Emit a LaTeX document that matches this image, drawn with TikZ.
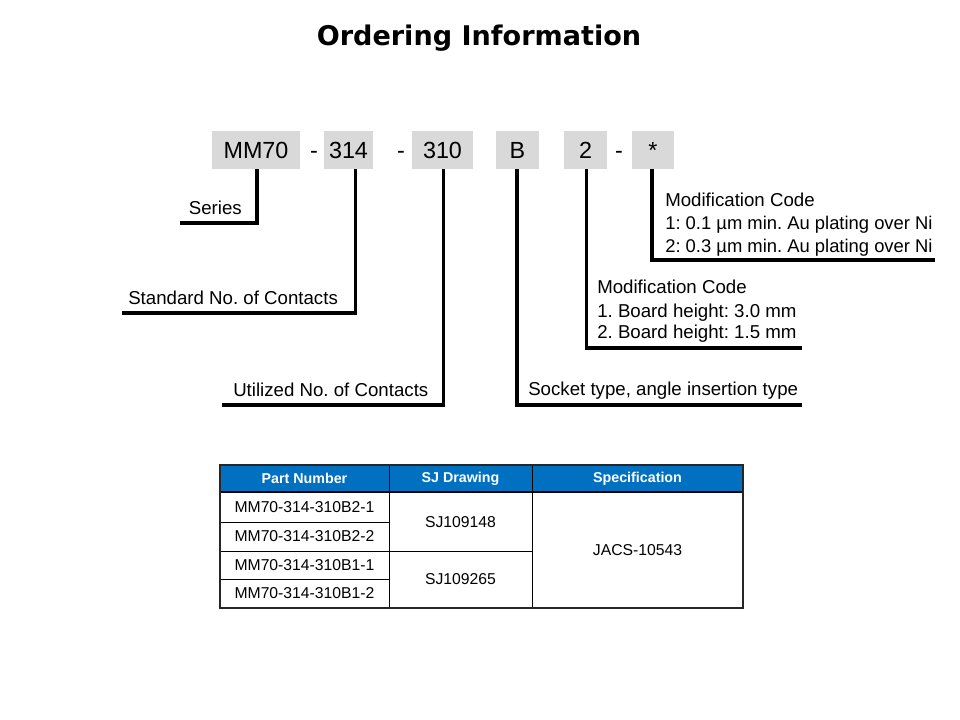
\documentclass[tikz,border=0pt]{standalone}
\usepackage{fontspec}
\setmainfont{Liberation Sans}
\newfontfamily\titlefont{DejaVu Sans}
\definecolor{boxgray}{HTML}{D9D9D9}
\definecolor{hdrblue}{HTML}{0070C0}
\frenchspacing
\begin{document}
\begin{tikzpicture}[x=0.75pt,y=-0.75pt,
  codebox/.style={fill=boxgray,inner sep=0pt,minimum height=28.5pt,font=\fontsize{17.5}{20}\selectfont},
  sep/.style={inner sep=0pt,font=\fontsize{17.5}{20}\selectfont},
  lbl/.style={inner sep=0pt,font=\fontsize{14}{17}\selectfont\frenchspacing},
  leader/.style={line width=2.3pt,line join=miter},
  cell/.style={inner sep=0pt,font=\fontsize{11.8}{14}\selectfont},
  hdr/.style={inner sep=0pt,text=white,font=\fontsize{10.7}{13}\selectfont\bfseries},
  thin/.style={line width=0.75pt},
  thick/.style={line width=1.6pt,draw=black!85}]
\useasboundingbox (0,0) rectangle (960,720);
\node[inner sep=0pt,font=\titlefont\fontsize{20.3}{24}\selectfont\bfseries] (title) at (479,38) {Ordering Information};
% code boxes
\node[codebox,minimum width=66pt] (bmm) at (256,150) {MM70};
\node[codebox,minimum width=36.75pt] (b314) at (348.5,150) {314};
\node[codebox,minimum width=45.75pt] (b310) at (442.5,150) {310};
\node[codebox,minimum width=32.25pt] (bB) at (517.5,150) {B};
\node[codebox,minimum width=32.25pt] (b2) at (585.5,150) {2};
\node[codebox,minimum width=31.5pt] (bst) at (653,150) {*};
\node[sep,anchor=base] (d1) at (314,0 |- bmm.base) {-};
\node[sep,anchor=base] (d2) at (401,0 |- bmm.base) {-};
\node[sep,anchor=base] (d3) at (619,0 |- bmm.base) {-};
% leader end points
\coordinate (eSeries) at (180,223);
\coordinate (eStd) at (122,313);
\coordinate (eUtil) at (222,405);
\coordinate (eSock) at (802,405);
\coordinate (eBoard) at (802,348);
\coordinate (ePlat) at (935,260);
\draw[leader] ([xshift=0.75pt]bmm.south) |- (eSeries);
\draw[leader] ([xshift=4.9pt]b314.south) |- (eStd);
\draw[leader] ([xshift=0.4pt]b310.south) |- (eUtil);
\draw[leader] ([xshift=-0.4pt]bB.south) |- (eSock);
\draw[leader] ([xshift=0.4pt]b2.south) |- (eBoard);
\draw[leader] ([xshift=-0.75pt]bst.south) |- (ePlat);
% labels
\node[lbl,anchor=base east] (lSeries) at (242,215) {Series};
\node[lbl,anchor=base west] (lStd) at (128,305) {Standard No. of Contacts};
\node[lbl,anchor=base west] (lUtil) at (233,396) {Utilized No. of Contacts};
\node[lbl,anchor=base west] (lSock) at (528,395) {Socket type, angle insertion type};
\node[lbl,anchor=base west] (lP1) at (665,207) {Modification Code};
\node[lbl,anchor=base west,font=\fontsize{13.8}{17}\selectfont] (lP2) at (665,230) {1: 0.1 µm min. Au plating over Ni};
\node[lbl,anchor=base west,font=\fontsize{13.8}{17}\selectfont] (lP3) at (665,253) {2: 0.3 µm min. Au plating over Ni};
\node[lbl,anchor=base west] (lB1) at (597,294) {Modification Code};
\node[lbl,anchor=base west] (lB2) at (597,317) {1. Board height: 3.0 mm};
\node[lbl,anchor=base west] (lB3) at (597,339) {2. Board height: 1.5 mm};
% table
\fill[hdrblue] (220,465) rectangle (743,492);
\draw[thin] (220,522) -- (389,522);
\draw[thin] (220,551) -- (532,551);
\draw[thin] (220,579) -- (389,579);
\draw[thin] (389,465) -- (389,608);
\draw[thin] (532,465) -- (532,608);
\draw[line width=1.5pt] (220,492) -- (743,492);
\draw[thick] (220,465) rectangle (743,608);
\node[hdr] (hPN) at (304.5,478.5) {Part Number};
\node[hdr] (hSJ) at (460.5,478.5) {SJ Drawing};
\node[hdr] (hSp) at (637.5,478.5) {Specification};
\node[cell] (r1) at (304.5,507.5) {MM70-314-310B2-1};
\node[cell] (r2) at (304.5,536.5) {MM70-314-310B2-2};
\node[cell] (r3) at (304.5,565) {MM70-314-310B1-1};
\node[cell] (r4) at (304.5,593.5) {MM70-314-310B1-2};
\node[cell] (s1) at (460.5,522) {SJ109148};
\node[cell] (s2) at (460.5,579.5) {SJ109265};
\node[cell] (sp) at (637.5,550) {JACS-10543};
\end{tikzpicture}
\end{document}
